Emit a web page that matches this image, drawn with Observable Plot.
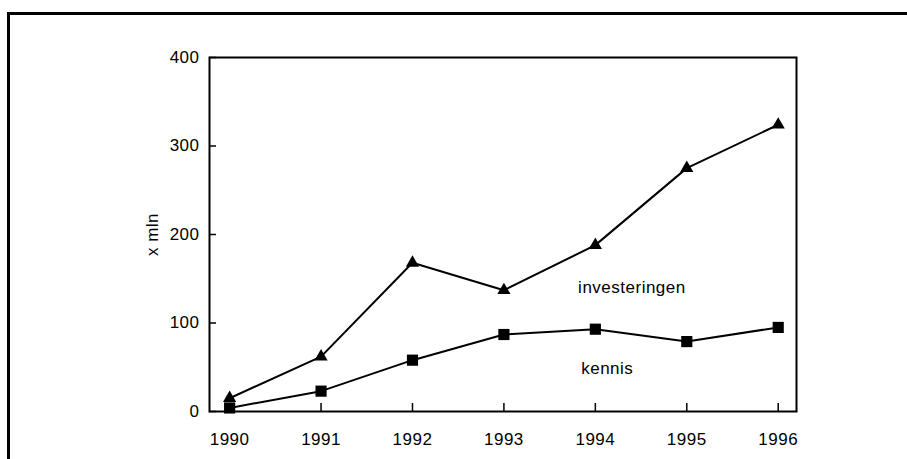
<!DOCTYPE html>
<html>
<head>
<meta charset="utf-8">
<script src="https://cdn.jsdelivr.net/npm/d3@7"></script>
<script src="https://cdn.jsdelivr.net/npm/@observablehq/plot@0.6"></script>
<style>
  html, body { margin: 0; padding: 0; background: #fff; }
  #wrap { position: relative; width: 907px; height: 459px; overflow: hidden; }
  #border { position: absolute; left: 7px; top: 12px; right: -10px; bottom: -10px;
            border-top: 3px solid #000; border-left: 3px solid #000; }
  #chart { position: absolute; left: 0; top: 0; }
</style>
</head>
<body>
<div id="wrap"><div id="border"></div><div id="chart"></div></div>
<script>
const years = [1990, 1991, 1992, 1993, 1994, 1995, 1996];
const investeringen = [15, 62, 168, 137, 188, 275, 324];
const kennis = [4, 23, 58, 87, 93, 79, 95];
const yTicks = [0, 100, 200, 300, 400];
const seriesLabels = [
  {name: "investeringen", x: 1994.4, y: 140},
  {name: "kennis", x: 1994.13, y: 49}
];
const yLabel = "x mln";

const rowsInv = years.map((y, i) => ({year: y, value: investeringen[i]}));
const rowsKen = years.map((y, i) => ({year: y, value: kennis[i]}));

const font = "Liberation Sans, Arial, sans-serif";

const chart = Plot.plot({
  width: 907,
  height: 459,
  marginLeft: 209,
  marginRight: 111,
  marginTop: 57,
  marginBottom: 48,
  style: {fontFamily: font, fontSize: "17px", color: "#000", background: "transparent", letterSpacing: "0.5px"},
  x: {domain: [1989.78, 1996.2]},
  y: {domain: [0, 400]},
  marks: [
    Plot.frame({stroke: "#000", strokeWidth: 2}),
    Plot.axisY(yTicks, {tickSize: 0, tickPadding: 10, label: null, fontSize: 17}),
    Plot.axisY(yTicks, {tickSize: -7, text: null, label: null, strokeWidth: 1.5}),
    Plot.axisX(years, {tickSize: 0, tickPadding: 21, tickFormat: d => String(d), label: null, fontSize: 17}),
    Plot.axisX(years, {tickSize: -8, text: null, label: null, strokeWidth: 1.5}),
    Plot.line(rowsInv, {x: "year", y: "value", stroke: "#000", strokeWidth: 2}),
    Plot.line(rowsKen, {x: "year", y: "value", stroke: "#000", strokeWidth: 2}),
    Plot.dot(rowsInv, {x: "year", y: "value", symbol: "triangle", r: 4.9, fill: "#000", stroke: null}),
    Plot.dot(rowsKen, {x: "year", y: "value", symbol: "square", r: 6.3, fill: "#000", stroke: null}),
    Plot.text(seriesLabels, {x: "x", y: "y", text: "name", fontSize: 17, fill: "#000", textAnchor: "middle"}),
    Plot.text([yLabel], {text: d => d, frameAnchor: "left", dx: -57, rotate: -90, fontSize: 17, fill: "#000", textAnchor: "middle"})
  ]
});
document.getElementById("chart").appendChild(chart);
</script>
</body>
</html>
